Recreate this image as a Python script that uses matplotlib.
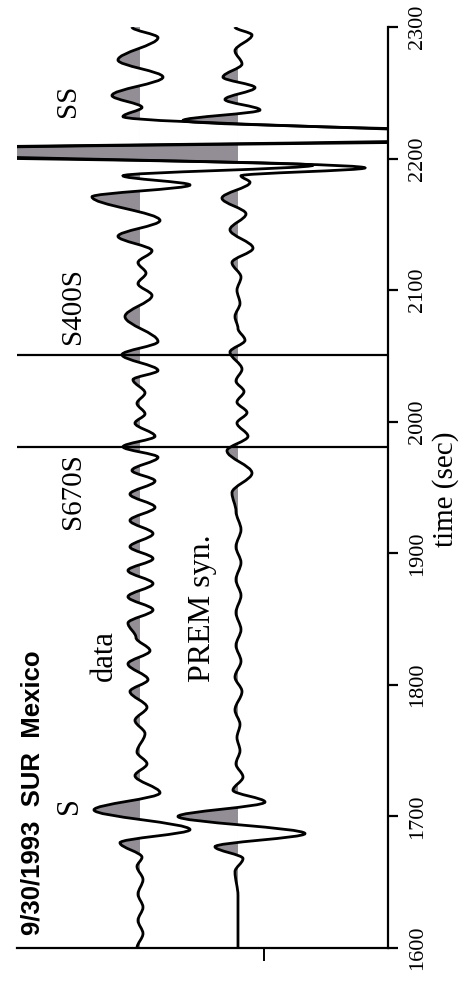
import matplotlib.pyplot as plt
from matplotlib.path import Path
from matplotlib.patches import PathPatch, Rectangle

# peaks and troughs of each seismogram: time (s), amplitude (positive = shaded side)
data_t = [1600, 1611, 1621, 1631, 1641, 1652, 1662, 1669, 1680, 1690, 1705, 1718,
          1731, 1740, 1749, 1763, 1773, 1783, 1795, 1804, 1816, 1826, 1836,
          1847, 1857, 1867, 1877, 1887, 1896, 1905, 1915, 1925, 1935, 1945, 1955,
          1963, 1973, 1981, 1989, 1999, 2006, 2014, 2022, 2032, 2039, 2051, 2061,
          2080, 2096, 2105, 2113, 2121, 2130, 2141, 2153, 2171, 2180, 2187, 2195,
          2205, 2216, 2232, 2239, 2248, 2262, 2275, 2292, 2300]
data_a = [3, -3, 2, -3, 2, -3, 3, -2, 20, -50, 46, -20,
          5, -7, 3, -5, 5, -7, 10, -8, 12, -10, 4,
          12, -13, 12, -13, 12, -13, 10, -13, 10, -15, 10, -15,
          8, -18, 17, -15, 5, -5, 3, -5, 7, -18, 18, -18,
          15, -12, 2, -6, 2, -12, 22, -20, 48, -50, 17, -173,
          400, -400, 17, -2, 28, -23, 22, -18, 8]

syn_t = [1600, 1640, 1658, 1668, 1677, 1687, 1700, 1711, 1720, 1730, 1740,
         1750, 1760, 1770, 1781, 1795, 1806, 1818, 1830, 1842, 1855, 1868, 1880,
         1893, 1905, 1918, 1932, 1946, 1961, 1978, 1989, 1999, 2007, 2015, 2023,
         2031, 2040, 2053, 2062, 2071, 2080, 2090, 2100, 2110, 2121, 2132, 2146,
         2158, 2170, 2182, 2187, 2193, 2206, 2216, 2229, 2237, 2245, 2254, 2262,
         2272, 2282, 2294, 2300]
syn_a = [0, 0, 3, -5, 23, -67, 60, -27, 5, -5, 2,
         -2, 1, -2, 3, -4, 3, -3, 2, -3, 2, -3, 2,
         -3, 2, -3, 2, 6, -14, 11, -10, 1, -9, 1, -6,
         2, -4, 8, -7, 0, 3, -2, 1, -3, 6, -15, 8,
         -8, 16, -12, -3, -127, 400, -400, 55, -22, 13, -17, 15,
         -4, 3, -14, 3]

offsets = {"data": 98, "syn": 0}
phases = [("S670S", 1981), ("S400S", 2051)]
time_ticks = [1600, 1700, 1800, 1900, 2000, 2100, 2200, 2300]

serif = "Liberation Serif"
plt.rcParams["font.family"] = [serif, "DejaVu Serif"]
plt.rcParams["ytick.labelsize"] = 16


def wiggle(ts, amps, off):
    # smooth curve through the extrema, flat (vertical) tangent at every knot
    verts = [(off + amps[0], ts[0])]
    codes = [Path.MOVETO]
    for i in range(len(ts) - 1):
        d = ts[i + 1] - ts[i]
        x0, x1 = off + amps[i], off + amps[i + 1]
        verts += [(x0, ts[i] + d / 3), (x1, ts[i + 1] - d / 3), (x1, ts[i + 1])]
        codes += [Path.CURVE4] * 3
    return verts, codes


def draw_trace(ax, ts, amps, off):
    verts, codes = wiggle(ts, amps, off)
    fill = PathPatch(Path(verts + [(off, ts[-1]), (off, ts[0]), verts[0]],
                          codes + [Path.LINETO, Path.LINETO, Path.CLOSEPOLY]),
                     facecolor="#938e96", edgecolor="none", zorder=1)
    ax.add_patch(fill)
    left = ax.get_xlim()[0]
    fill.set_clip_path(Rectangle((off, ts[0]), left - off, ts[-1] - ts[0],
                                 transform=ax.transData))
    ax.add_patch(PathPatch(Path(verts, codes), facecolor="none",
                           edgecolor="black", lw=2.0, zorder=3))


fig = plt.figure(figsize=(4.72, 9.86), dpi=100)
ax = fig.add_axes([0.036, 0.0385, 0.786, 0.934])
ax.set_xlim(221, -150)
ax.set_ylim(1600, 2300)

draw_trace(ax, data_t, data_a, offsets["data"])
draw_trace(ax, syn_t, syn_a, offsets["syn"])

for name, t in phases:
    ax.axhline(t, color="black", lw=1.6, zorder=2)

# axes: time runs up the right spine
for side in ["left", "top"]:
    ax.spines[side].set_visible(False)
for side in ["right", "bottom"]:
    ax.spines[side].set_linewidth(1.6)
ax.yaxis.tick_right()
ax.set_yticks(time_ticks)
ax.tick_params(axis="y", direction="out", length=7.5, width=1.6, pad=7,
               labelsize=16, labelrotation=90)
for lab in ax.get_yticklabels():
    lab.set_va("center")
ax.set_xticks([-26])
ax.set_xticklabels([""])
ax.tick_params(axis="x", direction="out", length=9, width=1.4)

fig.text(446 / 472, 1 - 489 / 986, "time (sec)", rotation=90, ha="center",
         va="center", fontsize=21)

# labels
ax.text(205, 1718, "9/30/1993  SUR  Mexico", rotation=90, ha="center", va="center",
        fontfamily="Liberation Sans", fontweight="bold", fontsize=18.5)
ax.text(168, 1708, "S", rotation=90, ha="center", va="center", fontsize=22)
ax.text(134, 1822, "data", rotation=90, ha="center", va="center", fontsize=22)
ax.text(35, 1858, "PREM syn.", rotation=90, ha="center", va="center", fontsize=23)
ax.text(165, 1947, "S670S", rotation=90, ha="center", va="center", fontsize=21)
ax.text(165, 2088, "S400S", rotation=90, ha="center", va="center", fontsize=21)
ax.text(170, 2244, "SS", rotation=90, ha="center", va="center", fontsize=21)

fig.savefig("out.png", dpi=100)
